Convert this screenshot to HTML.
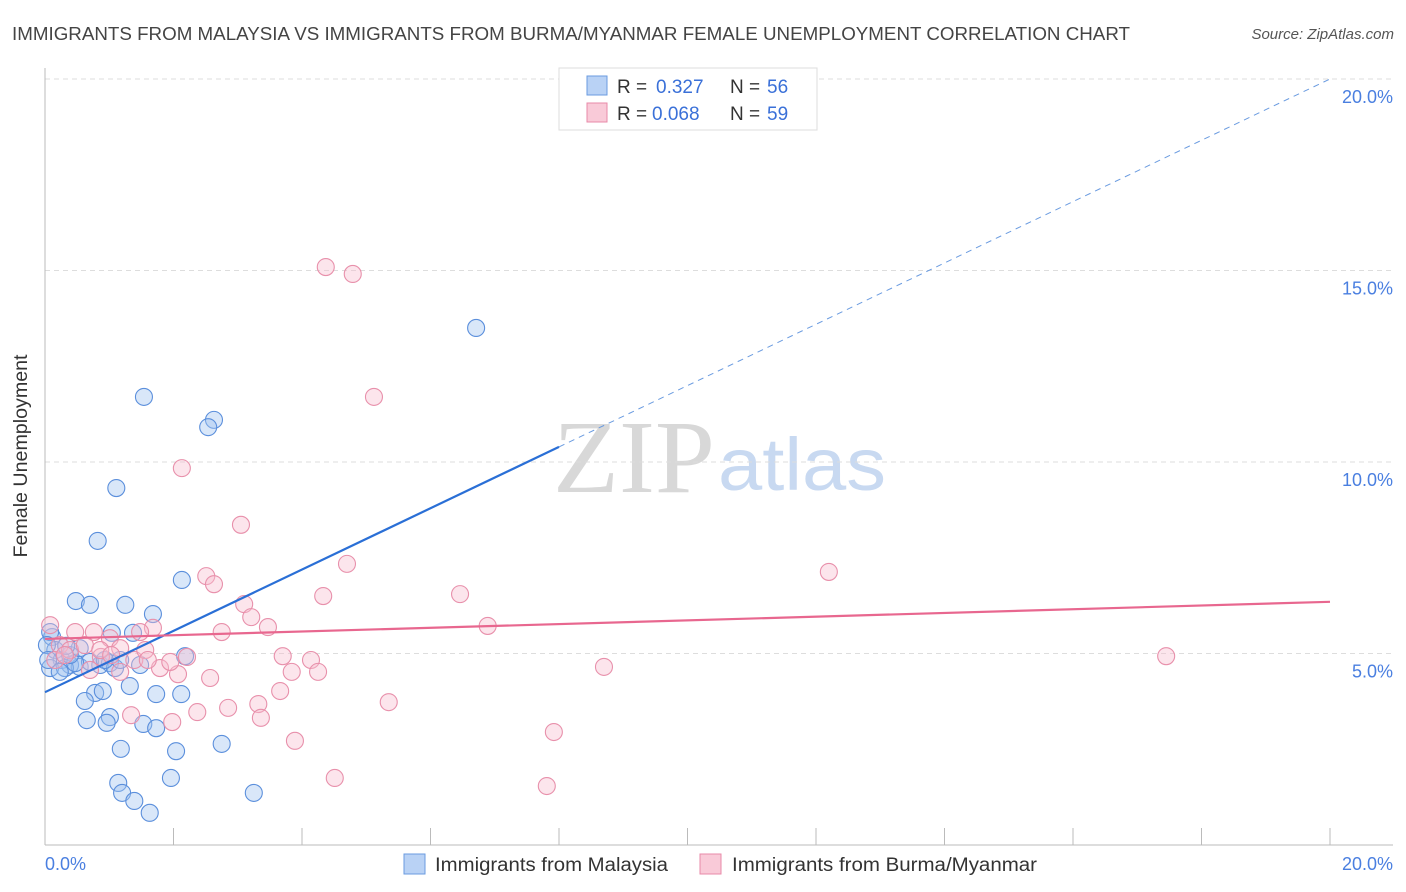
<!DOCTYPE html>
<html><head><meta charset="utf-8"><style>
body{margin:0;background:#fff;font-family:"Liberation Sans",sans-serif}
svg{display:block}
</style></head><body>
<svg id="c" width="1406" height="892" xmlns="http://www.w3.org/2000/svg">
<text x="12" y="40" font-size="18" fill="#444" textLength="1118" lengthAdjust="spacingAndGlyphs">IMMIGRANTS FROM MALAYSIA VS IMMIGRANTS FROM BURMA/MYANMAR FEMALE UNEMPLOYMENT CORRELATION CHART</text>
<text x="1394" y="39" font-size="15" fill="#555" font-style="italic" text-anchor="end">Source: ZipAtlas.com</text>
<g>
<text x="553" y="492" font-size="104" fill="#d8d8d8" font-family="Liberation Serif,serif" textLength="162" lengthAdjust="spacingAndGlyphs">ZIP</text>
<text x="718" y="490" font-size="74" fill="#c8d9f1" textLength="168" lengthAdjust="spacingAndGlyphs">atlas</text>
</g>
<g id="grid"></g>
<line x1="45" y1="68" x2="45" y2="845" stroke="#bbb"/>
<line x1="45" y1="845" x2="1393" y2="845" stroke="#bbb"/>
<g id="ticks"></g>
<text x="27" y="456" font-size="19" fill="#333" text-anchor="middle" textLength="203" lengthAdjust="spacingAndGlyphs" transform="rotate(-90 27 456)">Female Unemployment</text>
<text x="45" y="870" font-size="18" fill="#4a7fe0">0.0%</text>
<text x="1393" y="870" font-size="18" fill="#4a7fe0" text-anchor="end">20.0%</text>
<g id="pts"></g>
<g id="lines"></g>
<g>
<rect x="559" y="68" width="258" height="62" fill="#fff" stroke="#ddd"/>
<rect x="587" y="76" width="20" height="19" fill="#b9d2f5" stroke="#6a9be0"/>
<text y="93" font-size="19" fill="#333"><tspan x="617">R =</tspan><tspan x="656" fill="#3a70d8">0.327</tspan><tspan x="730">N =</tspan><tspan x="767" fill="#3a70d8">56</tspan></text>
<rect x="587" y="103" width="20" height="19" fill="#f9cad8" stroke="#e88aa8"/>
<text y="120" font-size="19" fill="#333"><tspan x="617">R =</tspan><tspan x="652" fill="#3a70d8">0.068</tspan><tspan x="730">N =</tspan><tspan x="767" fill="#3a70d8">59</tspan></text>
</g>
<g>
<rect x="404" y="854" width="21" height="20" fill="#b9d2f5" stroke="#6a9be0"/>
<text x="435" y="871" font-size="19" fill="#333" textLength="233" lengthAdjust="spacingAndGlyphs">Immigrants from Malaysia</text>
<rect x="700" y="854" width="21" height="20" fill="#f9cad8" stroke="#e88aa8"/>
<text x="732" y="871" font-size="19" fill="#333" textLength="305" lengthAdjust="spacingAndGlyphs">Immigrants from Burma/Myanmar</text>
</g>
</svg>
<script>
const yTicks=[5,10,15,20];
const yTickLabels=["5.0%","10.0%","15.0%","20.0%"];
const blueX=[6.71,1.54,2.63,2.54,1.11,0.82,2.13,0.48,0.70,1.25,1.68,1.37,1.04,0.11,0.08,2.18,0.16,0.26,0.39,0.54,0.86,1.01,0.08,0.31,0.70,1.09,0.78,0.90,1.32,1.73,2.12,0.62,1.01,0.65,0.96,1.53,1.73,2.75,1.18,2.04,1.14,1.20,1.39,1.63,1.96,3.25,0.03,0.47,0.93,0.39,0.23,1.17,1.48,0.05,0.54,0.33];
const blueY=[13.5,11.7,11.1,10.91,9.32,7.94,6.92,6.37,6.27,6.27,6.03,5.54,5.54,5.43,5.56,4.93,5.09,4.83,4.70,4.65,4.70,4.75,4.62,4.62,4.78,4.62,3.97,4.02,4.15,3.94,3.94,3.76,3.34,3.26,3.19,3.16,3.05,2.64,2.51,2.45,1.62,1.36,1.15,0.84,1.75,1.36,5.22,4.75,4.83,4.96,4.52,4.83,4.70,4.83,5.14,5.2];
const pinkX=[4.37,4.79,5.12,2.13,3.05,4.70,12.2,2.51,2.63,6.46,4.33,3.10,3.21,6.89,3.47,2.75,1.68,0.76,0.47,1.48,1.01,0.08,17.45,8.70,3.70,4.14,4.25,3.84,2.21,1.79,2.07,2.57,1.39,0.87,1.17,3.66,5.35,2.85,3.32,2.37,1.34,1.98,3.36,3.89,7.92,4.51,7.81,0.23,0.39,0.62,0.86,1.17,1.56,0.16,0.31,0.70,1.95,1.03,1.60];
const pinkY=[15.09,14.91,11.7,9.84,8.36,7.34,7.13,7.02,6.81,6.55,6.5,6.29,5.95,5.72,5.69,5.56,5.67,5.56,5.56,5.56,5.4,5.74,4.93,4.65,4.93,4.83,4.52,4.52,4.91,4.62,4.46,4.36,4.83,4.91,4.52,4.02,3.73,3.58,3.68,3.47,3.39,3.21,3.32,2.72,2.95,1.75,1.54,5.22,5.09,5.22,5.09,5.14,5.09,4.83,4.96,4.57,4.78,4.96,4.83];
const blueTrend=[3.99,20.0];
const pinkTrend=[5.38,6.35];
const NS="http://www.w3.org/2000/svg";
const sx=v=>45+v*64.25, sy=v=>845-v*38.3;
function mk(t,a,p){const e=document.createElementNS(NS,t);for(const k in a)e.setAttribute(k,a[k]);document.getElementById(p).appendChild(e);return e;}
yTicks.forEach((t,i)=>{
 const l=mk('line',{x1:45,x2:1393,y1:sy(t),y2:sy(t),stroke:'#ddd','stroke-dasharray':'5,4'},'grid');
 
 
 const tx=mk('text',{x:1393,y:sy(t)+24,'font-size':18,fill:'#4a7fe0','text-anchor':'end'},'ticks');
 tx.textContent=yTickLabels[i];
 
 
});
for(let i=1;i<=10;i++){
 const l=mk('line',{x1:sx(i*2),x2:sx(i*2),y1:828,y2:845,stroke:'#bbb'},'ticks');
 
 
}
blueX.forEach((x,i)=>{
 const c=mk('circle',{cx:sx(x),cy:sy(blueY[i]),r:8.5,fill:'rgba(160,195,240,0.4)',stroke:'#5b8fdc','stroke-width':1.1},'pts');
 
 
});
pinkX.forEach((x,i)=>{
 const c=mk('circle',{cx:sx(x),cy:sy(pinkY[i]),r:8.5,fill:'rgba(248,190,208,0.4)',stroke:'#e890ab','stroke-width':1.1},'pts');
 
 
});
const bx=8.0, by=blueTrend[0]+(blueTrend[1]-blueTrend[0])*bx/20;
const b1=mk('line',{x1:sx(0),y1:sy(blueTrend[0]),x2:sx(bx),y2:sy(by),stroke:'#2a6fd6','stroke-width':2.2},'lines');


const b2=mk('line',{x1:sx(bx),y1:sy(by),x2:sx(20),y2:sy(blueTrend[1]),stroke:'#6a9be0','stroke-width':1,'stroke-dasharray':'6,5'},'lines');


const p1=mk('line',{x1:sx(0),y1:sy(pinkTrend[0]),x2:sx(20),y2:sy(pinkTrend[1]),stroke:'#e8678f','stroke-width':2.2},'lines');


</script>
</body></html>
